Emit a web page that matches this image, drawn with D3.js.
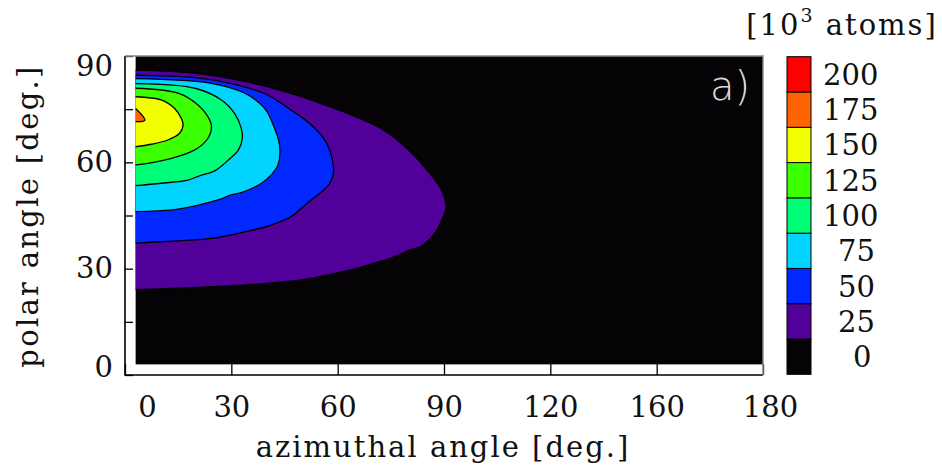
<!DOCTYPE html>
<html><head><meta charset="utf-8">
<script src="https://cdn.jsdelivr.net/npm/d3@7"></script>
<style>body{margin:0;background:#fff;overflow:hidden}</style>
</head><body>
<svg id="chart" width="942" height="469"></svg>
<script>
// ---------- data ----------
const xTicks = [0, 30, 60, 90, 120, 150, 180];
const xTickLabels = ["0", "30", "60", "90", "120", "160", "180"];
const yTicks = [0, 15, 30, 45, 60, 75, 90];
const yLabelled = [0, 30, 60, 90];
const levels = [0, 25, 50, 75, 100, 125, 150, 175, 200];
const levelColors = ["#050305", "#52009a", "#0028ff", "#00d4ff", "#00ff78", "#3cff00", "#f2ff00", "#ff6400", "#ff0000"];
const dataAz = [3, 180];
const dataPolar = [3, 90];
// contour lines [azimuth, polar]
const contour25 = [[3,86.0],[20,85.1],[34,82.8],[43,80.5],[51.6,77.9],[56,76.3],[65,72.9],[73,69.1],[80,63.5],[86,56.9],[89.3,52.2],[90.6,47.5],[89.8,44.7],[87,39.5],[83.3,36.2],[80.4,35.3],[74.8,32.9],[70,31.5],[63.5,29.6],[56,28.0],[51.6,27.1],[43,26.1],[34,25.4],[24,24.9],[15,24.5],[3,24.1]];
const contour50 = [[3,84.6],[19.7,83.9],[31,82.0],[40.3,79.0],[46.5,75.0],[50.3,72.4],[54.1,69.1],[56.9,65.4],[58.3,61.6],[58.8,56.9],[57.8,54.1],[55,51.3],[51.3,48.4],[46.9,44.7],[41.3,42.3],[33.8,40.4],[27.2,39.0],[19.7,38.1],[10.2,37.6],[3,37.2]];
const contour75 = [[3,83.6],[24.3,82.3],[33.8,79.5],[39.4,75.2],[42.2,69.6],[43.6,64.9],[43.2,59.3],[41.3,56.5],[38.5,54.1],[33,51.5],[30,50.8],[26.2,49.4],[15,46.8],[3,46.1]];
const contour100 = [[3,82.2],[19.7,80.9],[27.2,77.6],[30.9,73.8],[32.8,69.6],[33.1,66.8],[32,63.5],[29,60.5],[25.3,57.6],[21,56.2],[17.8,55.0],[10.2,54.1],[3,53.4]];
const contour125 = [[3,80.9],[15,79.5],[20.6,76.2],[23.4,72.9],[24.4,70.1],[23.4,66.8],[19.7,63.5],[13.1,61.1],[6.5,59.7],[3,59.3]];
const contour150 = [[3,78.5],[10.2,77.6],[14,75.2],[15.9,72.4],[16.4,70.5],[15.4,68.2],[12.1,66.3],[7.4,65.1],[3,64.4]];
const contour175 = [[3,75.2],[5.6,71.9],[3,71.5]];
const contourSets = [
  {level: 25, pts: contour25},
  {level: 50, pts: contour50},
  {level: 75, pts: contour75},
  {level: 100, pts: contour100},
  {level: 125, pts: contour125},
  {level: 150, pts: contour150},
  {level: 175, pts: contour175}
];

// ---------- layout ----------
const svg = d3.select("#chart");
const serif = "'DejaVu Serif', serif";
const x = d3.scaleLinear().domain([0, 180]).range([125, 763]);
const y = d3.scaleLinear().domain([0, 90]).range([375, 56]);
const color = d3.scaleOrdinal().domain(levels).range(levelColors);

// data area background (level 0)
svg.append("rect")
  .attr("x", x(dataAz[0])).attr("y", y(dataPolar[1]))
  .attr("width", x(dataAz[1]) - x(dataAz[0]))
  .attr("height", y(dataPolar[0]) - y(dataPolar[1]))
  .attr("fill", color(0));

const line = d3.line().x(d => x(d[0])).y(d => y(d[1])).curve(d3.curveCatmullRom.alpha(0.5));
const gC = svg.append("g");
contourSets.forEach(c => {
  gC.append("path").attr("d", line(c.pts) + "Z").attr("fill", color(c.level)).attr("stroke", "none");
});
contourSets.forEach(c => {
  gC.append("path").attr("d", line(c.pts)).attr("fill", "none")
    .attr("stroke", "#000").attr("stroke-width", 1.3);
});

// x axis
const gx = svg.append("g").attr("transform", `translate(0,${y(0)})`)
  .call(d3.axisBottom(x).tickValues(xTicks).tickSizeInner(-11).tickSizeOuter(0)
    .tickPadding(21).tickFormat((d, i) => xTickLabels[i]));
gx.select(".domain").remove();
gx.selectAll("line").attr("stroke", "#000").attr("stroke-width", 1.3);
gx.selectAll("text").attr("font-family", serif).attr("font-size", 29).attr("fill", "#111")
  .attr("dx", d => d === 0 ? 22 : (d === 180 ? 7 : 0));

// y axis
const gy = svg.append("g").attr("transform", `translate(${x(0)},0)`)
  .call(d3.axisLeft(y).tickValues(yTicks).tickSizeInner(-8).tickSizeOuter(0)
    .tickPadding(12).tickFormat(d => yLabelled.includes(d) ? String(d) : ""));
gy.select(".domain").remove();
gy.selectAll("line").attr("stroke", "#000").attr("stroke-width", 1.3);
gy.selectAll("text").attr("font-family", serif).attr("font-size", 29).attr("fill", "#111")
  .attr("transform", d => d === 90 ? "translate(0,10)" : (d === 0 ? "translate(0,-8)" : null));

// frame
const fr = svg.append("g").attr("fill", "none");
fr.append("path").attr("d", `M${x(0)},${y(90)}V${y(0)}H${x(180)}`).attr("stroke", "#000").attr("stroke-width", 1.6);
fr.append("path").attr("d", `M${x(0)},${y(90)}H${x(180)}V${y(0)}`).attr("stroke", "#8a8a8a").attr("stroke-width", 1.4);

// axis titles
svg.append("text").attr("x", 443).attr("y", 457).attr("text-anchor", "middle")
  .attr("font-family", serif).attr("font-size", 29).attr("letter-spacing", 2).attr("fill", "#111")
  .text("azimuthal angle [deg.]");
svg.append("text").attr("transform", "translate(38,216) rotate(-90)").attr("text-anchor", "middle")
  .attr("font-family", serif).attr("font-size", 29).attr("letter-spacing", 2.3).attr("fill", "#111")
  .text("polar angle [deg.]");

// panel label
svg.append("text").attr("x", 750).attr("y", 100).attr("text-anchor", "end")
  .attr("font-family", "'DejaVu Sans', sans-serif").attr("font-weight", 200).attr("font-size", 40)
  .attr("fill", "#dcdcdc").text("a)");

// colour bar
const cb = d3.scaleBand().domain(levels.slice().reverse()).range([56.7, 374.3]).padding(0);
const gcb = svg.append("g");
gcb.selectAll("rect").data(levels).join("rect")
  .attr("x", 787).attr("width", 24)
  .attr("y", d => cb(d)).attr("height", cb.bandwidth())
  .attr("fill", d => color(d)).attr("stroke", "#000").attr("stroke-width", 1);
gcb.selectAll("text").data(levels).join("text")
  .attr("x", d => 823 + (3 - String(d).length) * 15)
  .attr("y", d => cb(d) + cb.bandwidth() / 2).attr("dy", "0.36em")
  .attr("font-family", serif).attr("font-size", 29).attr("fill", "#111")
  .text(d => String(d));
const ttl = svg.append("text").attr("x", 842).attr("y", 35).attr("text-anchor", "middle")
  .attr("font-family", serif).attr("font-size", 29).attr("letter-spacing", 2).attr("fill", "#111");
ttl.append("tspan").text("[10");
ttl.append("tspan").attr("dy", -13).attr("font-size", 19).text("3");
ttl.append("tspan").attr("dy", 13).text(" atoms]");
</script>
</body></html>
